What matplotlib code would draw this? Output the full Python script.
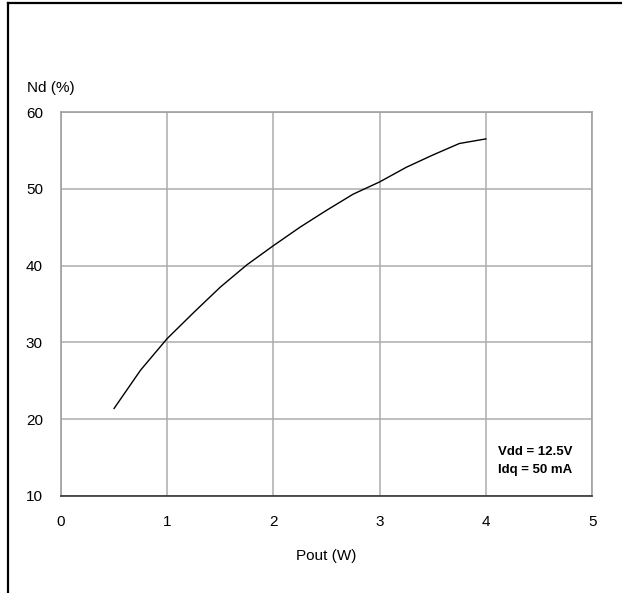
import matplotlib.pyplot as plt
from matplotlib.lines import Line2D

plt.rcParams['font.family'] = ['Liberation Sans', 'DejaVu Sans']

# data
pout = [0.5, 0.75, 1.0, 1.25, 1.5, 1.75, 2.0, 2.25, 2.5, 2.75, 3.0, 3.25, 3.5, 3.75, 4.0]
nd = [21.4, 26.4, 30.5, 33.9, 37.2, 40.1, 42.6, 45.0, 47.2, 49.3, 50.9, 52.8, 54.4, 55.9, 56.5]

xticks = [0, 1, 2, 3, 4, 5]
yticks = [10, 20, 30, 40, 50, 60]

fig = plt.figure(figsize=(6.22, 5.93), dpi=100)
ax = fig.add_axes((0.098, 0.1636, 0.854, 0.6475))

ax.plot(pout, nd, color='black', lw=1.0)

ax.set_xlim(0, 5)
ax.set_ylim(10, 60)
ax.set_xticks(xticks)
ax.set_yticks(yticks)
ax.tick_params(length=0, labelsize=11, colors='black')
ax.tick_params(axis='x', pad=14)
ax.tick_params(axis='y', pad=13)
ax.grid(True, color='#acacac', lw=1.1)
ax.set_axisbelow(True)

for side in ['top', 'right', 'left']:
    ax.spines[side].set_color('#a0a0a0')
    ax.spines[side].set_linewidth(1.2)
ax.spines['bottom'].set_color('#333333')
ax.spines['bottom'].set_linewidth(1.2)

ax.set_xlabel('Pout (W)', fontsize=11, labelpad=14)
fig.text(27 / 622, 1 - 88 / 593, 'Nd (%)', fontsize=11, ha='left', va='center')

ax.text(4.11, 15.7, 'Vdd = 12.5V', fontsize=9.5, fontweight='bold', va='center')
ax.text(4.11, 13.4, 'Idq = 50 mA', fontsize=9.5, fontweight='bold', va='center')

# page frame lines
fig.add_artist(Line2D([8 / 622, 1], [1 - 3 / 593, 1 - 3 / 593], color='black', lw=1.6))
fig.add_artist(Line2D([8 / 622, 8 / 622], [0, 1 - 3 / 593], color='black', lw=1.6))

fig.savefig('out.png', dpi=100)
